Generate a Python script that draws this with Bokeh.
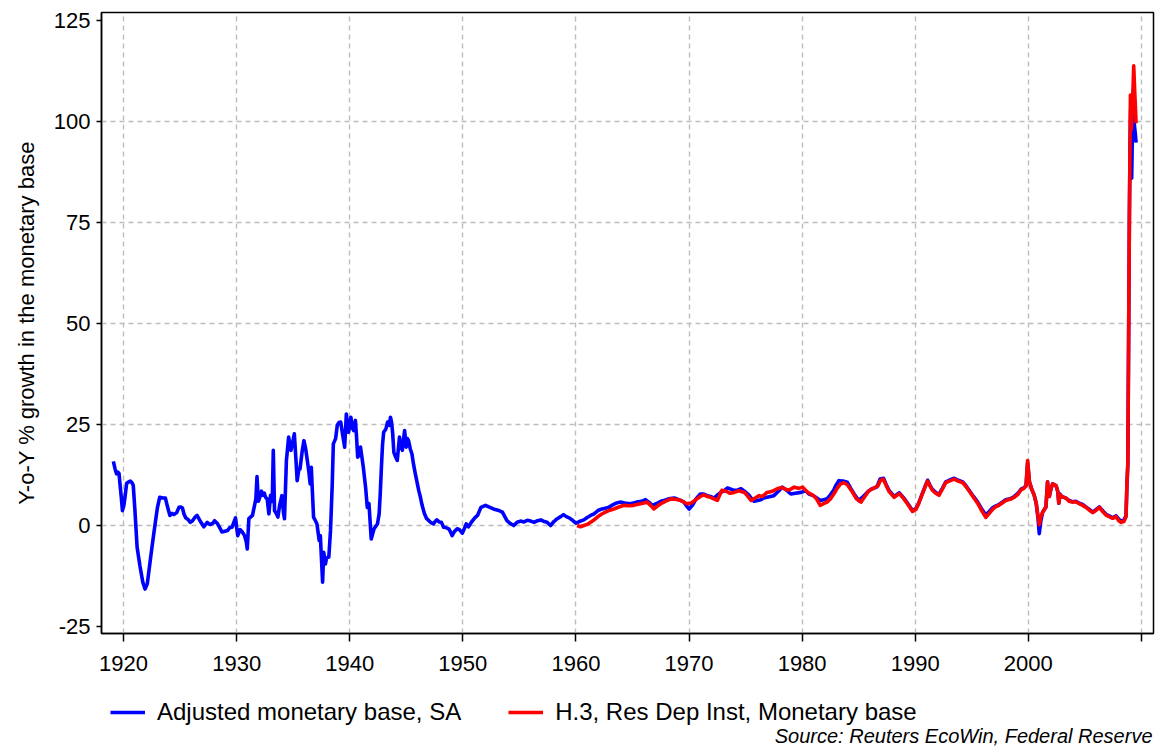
from bokeh.plotting import figure
from bokeh.models import Range1d, FixedTicker, Legend, LegendItem, Label
from bokeh.layouts import column
from bokeh.embed import file_html
from bokeh.resources import INLINE

# ---------------- data ----------------
blue_years = [
    1919.10, 1919.25, 1919.38, 1919.50, 1919.60, 1919.67, 1919.80, 1919.90, 1920.03, 1920.15,
    1920.27, 1920.45, 1920.60, 1920.75, 1920.86, 1921.00, 1921.20, 1921.45, 1921.70, 1921.90,
    1922.10, 1922.40, 1922.60, 1922.83, 1923.00, 1923.20, 1923.45, 1923.70, 1923.90, 1924.10,
    1924.30, 1924.45, 1924.70, 1924.90, 1925.05, 1925.20, 1925.35, 1925.50, 1925.70, 1925.90,
    1926.10, 1926.30, 1926.50, 1926.80, 1927.10, 1927.40, 1927.55, 1927.70, 1927.90, 1928.05,
    1928.30, 1928.50, 1928.70, 1928.95, 1929.20, 1929.40, 1929.60, 1929.75, 1929.90, 1930.00,
    1930.10, 1930.30, 1930.50, 1930.70, 1930.85, 1930.94, 1931.08, 1931.40, 1931.70, 1931.80,
    1931.92, 1932.05, 1932.20, 1932.30, 1932.45, 1932.55, 1932.70, 1932.85, 1933.00, 1933.15,
    1933.24, 1933.35, 1933.50, 1933.65, 1933.80, 1934.00, 1934.15, 1934.23, 1934.40, 1934.60,
    1934.70, 1934.80, 1934.95, 1935.10, 1935.25, 1935.35, 1935.50, 1935.60, 1935.80, 1935.95,
    1936.10, 1936.25, 1936.40, 1936.50, 1936.60, 1936.80, 1937.00, 1937.10, 1937.30, 1937.40,
    1937.60, 1937.70, 1937.85, 1937.95, 1938.15, 1938.30, 1938.45, 1938.55, 1938.75, 1938.90,
    1939.05, 1939.20, 1939.40, 1939.55, 1939.70, 1939.80, 1939.90, 1940.10, 1940.25, 1940.35,
    1940.50, 1940.60, 1940.70, 1940.85, 1940.95, 1941.20, 1941.40, 1941.55, 1941.70, 1941.90,
    1942.15, 1942.45, 1942.60, 1942.70, 1942.80, 1942.90, 1943.00, 1943.20, 1943.35, 1943.50,
    1943.60, 1943.70, 1943.80, 1943.90, 1944.05, 1944.20, 1944.40, 1944.50, 1944.65, 1944.85,
    1945.00, 1945.10, 1945.20, 1945.35, 1945.50, 1945.65, 1945.80, 1946.10, 1946.25, 1946.40,
    1946.60, 1946.80, 1947.00, 1947.15, 1947.40, 1947.55, 1947.70, 1947.90, 1948.10, 1948.30,
    1948.50, 1948.75, 1948.90, 1949.05, 1949.25, 1949.50, 1949.70, 1949.95, 1950.10, 1950.30,
    1950.50, 1950.80, 1951.10, 1951.30, 1951.60, 1952.00, 1952.30, 1952.70, 1953.10, 1953.50,
    1953.90, 1954.20, 1954.50, 1954.80, 1955.10, 1955.40, 1955.70, 1956.00, 1956.30, 1956.60,
    1956.90, 1957.20, 1957.45, 1957.75, 1958.05, 1958.35, 1958.65, 1958.90, 1959.15, 1959.40,
    1959.70, 1960.00, 1960.30, 1960.70, 1961.00, 1961.30, 1961.60, 1962.00, 1962.30, 1962.60,
    1962.90, 1963.30, 1963.60, 1963.95, 1964.30, 1964.80, 1965.10, 1965.40, 1965.80, 1966.15,
    1966.45, 1966.75, 1967.10, 1967.50, 1967.80, 1968.20, 1968.70, 1969.10, 1969.55, 1969.80,
    1970.00, 1970.30, 1970.60, 1971.00, 1971.30, 1971.60, 1971.90, 1972.20, 1972.50, 1972.80,
    1973.10, 1973.40, 1973.70, 1974.00, 1974.30, 1974.60, 1974.90, 1975.20, 1975.50, 1975.75,
    1976.05, 1976.35, 1976.60, 1976.90, 1977.20, 1977.50, 1977.90, 1978.25, 1978.60, 1979.00,
    1979.40, 1979.90, 1980.30, 1980.60, 1981.00, 1981.30, 1981.60, 1981.90, 1982.20, 1982.50,
    1982.80, 1983.00, 1983.25, 1983.60, 1984.00, 1984.30, 1984.60, 1985.00, 1985.35, 1985.75,
    1986.10, 1986.60, 1986.90, 1987.20, 1987.45, 1987.70, 1988.15, 1988.60, 1989.00, 1989.40,
    1989.76, 1990.06, 1990.30, 1990.60, 1990.85, 1991.10, 1991.30, 1991.50, 1991.80, 1992.10,
    1992.40, 1992.70, 1993.00, 1993.45, 1993.80, 1994.20, 1994.50, 1994.80, 1995.15, 1995.50,
    1995.90, 1996.25, 1996.55, 1996.84, 1997.10, 1997.40, 1997.70, 1998.00, 1998.40, 1998.76,
    1999.10, 1999.35, 1999.60, 1999.80, 1999.94, 2000.10, 2000.30, 2000.50, 2000.70, 2000.85,
    2000.97, 2001.10, 2001.27, 2001.56, 2001.70, 2001.80, 2001.86, 2002.00, 2002.15, 2002.45,
    2002.60, 2002.70, 2002.80, 2002.95, 2003.33, 2003.60, 2003.90, 2004.20, 2004.50, 2004.80,
    2005.10, 2005.40, 2005.70, 2006.00, 2006.28, 2006.60, 2006.87, 2007.15, 2007.46, 2007.76,
    2008.00, 2008.20, 2008.45, 2008.64, 2008.72, 2008.80, 2008.88, 2008.94, 2009.00, 2009.05,
    2009.14, 2009.22, 2009.30, 2009.38, 2009.46, 2009.53,
]
blue_values = [
    15.9, 14.0, 12.8, 13.2, 12.9, 10.7, 7.0, 3.7, 5.0, 7.5,
    10.4, 10.8, 11.0, 10.6, 9.9, 4.0, -5.4, -10.0, -14.0, -15.7,
    -14.4, -7.8, -3.5, 1.2, 4.5, 7.0, 6.8, 6.8, 4.5, 2.5,
    3.0, 2.7, 3.2, 4.5, 4.6, 4.4, 2.8, 1.9, 1.5, 0.8,
    1.2, 2.0, 2.5, 1.0, -0.3, 0.8, 0.4, 0.25, 0.6, 1.2,
    0.5, -0.5, -1.6, -1.4, -1.2, -0.5, -0.4, 0.8, 1.9, -0.5,
    -2.5, -1.0, -1.6, -2.5, -4.0, -5.8, 1.7, 2.5, 6.6, 12.1,
    6.0, 7.0, 8.5, 7.5, 8.0, 7.0, 6.6, 2.9, 7.5, 6.0,
    18.6, 3.7, 3.0, 2.1, 5.0, 7.4, 3.0, 1.7, 16.1, 21.9,
    20.0, 18.6, 20.5, 22.7, 16.0, 11.1, 14.0, 14.0, 18.5, 21.0,
    19.0, 16.1, 13.0, 10.3, 14.4, 2.1, 1.0, 0.4, -3.7, -2.5,
    -14.0, -6.6, -9.5, -8.0, -7.8, -1.2, 10.0, 20.2, 21.5, 24.8,
    25.5, 25.6, 22.0, 19.4, 27.6, 25.0, 23.1, 26.8, 24.0, 23.5,
    26.0, 22.0, 16.9, 17.5, 19.4, 14.4, 9.5, 4.5, 5.4, -3.3,
    -0.8, 0.4, 2.9, 8.0, 14.4, 20.0, 23.1, 23.9, 25.6, 24.8,
    26.8, 25.5, 22.7, 18.1, 17.0, 16.1, 21.9, 20.0, 18.6, 23.5,
    19.4, 21.5, 21.0, 19.0, 17.7, 15.0, 12.8, 8.7, 7.0, 5.0,
    3.0, 1.7, 1.2, 0.8, 0.4, 1.0, 1.4, 0.9, 0.8, -0.4,
    -0.5, -0.8, -1.5, -2.5, -1.5, -0.8, -1.0, -1.9, -1.0, 0.4,
    -0.3, 1.0, 2.0, 2.5, 4.5, 5.0, 4.6, 4.1, 3.8, 3.3,
    1.2, 0.5, 0.0, 0.8, 1.1, 0.9, 1.3, 1.1, 0.8, 1.2,
    1.4, 1.0, 0.8, 0.0, 1.0, 1.7, 2.2, 2.7, 2.2, 1.9,
    1.3, 0.6, 1.0, 1.4, 2.0, 2.5, 2.9, 3.8, 4.1, 4.3,
    4.5, 5.2, 5.6, 5.8, 5.6, 5.4, 5.6, 5.8, 6.0, 6.4,
    5.8, 5.0, 5.4, 6.0, 6.2, 6.6, 6.8, 6.4, 5.8, 4.8,
    4.1, 5.0, 6.5, 7.8, 7.8, 7.4, 7.2, 6.8, 7.5, 8.2,
    8.6, 9.3, 9.0, 8.7, 8.8, 9.1, 8.5, 7.8, 6.8, 6.0,
    6.2, 6.4, 6.8, 7.0, 7.2, 7.4, 8.5, 9.5, 8.8, 7.8,
    8.0, 8.2, 8.6, 7.8, 7.4, 6.8, 6.2, 6.4, 6.6, 7.6,
    8.8, 10.0, 11.1, 11.0, 10.7, 9.2, 7.8, 6.2, 7.0, 8.2,
    9.0, 9.5, 11.5, 11.7, 10.0, 8.6, 7.2, 8.1, 6.8, 5.2,
    3.7, 4.2, 5.5, 7.7, 9.5, 11.2, 10.0, 9.0, 8.2, 7.7,
    9.2, 10.8, 11.2, 11.7, 11.2, 10.8, 9.8, 8.6, 7.2, 5.9,
    4.0, 2.6, 3.5, 4.4, 4.8, 5.2, 5.8, 6.4, 6.6, 7.2,
    8.0, 9.0, 9.3, 9.9, 15.5, 10.8, 9.0, 7.7, 5.5, 2.0,
    -2.0, 1.0, 3.3, 4.6, 10.8, 8.0, 7.2, 9.0, 10.3, 9.9,
    8.5, 5.5, 7.8, 7.2, 6.8, 6.2, 5.9, 6.0, 5.5, 5.2,
    4.6, 4.0, 3.3, 4.0, 4.6, 3.6, 2.8, 2.4, 1.9, 2.4,
    1.6, 1.1, 1.4, 2.4, 10.0, 15.2, 50.5, 77.0, 95.0, 103.0,
    85.9, 100.0, 108.0, 99.0, 97.0, 94.7,
]

red_years = [
    1960.10, 1960.40, 1960.70, 1961.00, 1961.30, 1961.60, 1961.90, 1962.25, 1962.60, 1963.00,
    1963.35, 1963.80, 1964.25, 1964.70, 1965.10, 1965.40, 1965.70, 1966.00, 1966.30, 1966.60,
    1966.90, 1967.20, 1967.50, 1967.90, 1968.40, 1968.80, 1969.30, 1969.80, 1970.20, 1970.70,
    1971.00, 1971.30, 1971.60, 1971.90, 1972.20, 1972.50, 1972.90, 1973.30, 1973.60, 1974.00,
    1974.40, 1974.90, 1975.20, 1975.50, 1975.85, 1976.20, 1976.50, 1976.90, 1977.30, 1977.80,
    1978.20, 1978.70, 1979.00, 1979.30, 1979.70, 1980.05, 1980.50, 1981.00, 1981.30, 1981.60,
    1981.90, 1982.20, 1982.50, 1982.80, 1983.10, 1983.40, 1983.70, 1984.00, 1984.40, 1984.80,
    1985.20, 1985.50, 1985.90, 1986.30, 1986.70, 1986.90, 1987.17, 1987.45, 1987.70, 1988.14,
    1988.60, 1989.00, 1989.40, 1989.76, 1990.06, 1990.30, 1990.60, 1990.85, 1991.10, 1991.30,
    1991.50, 1991.80, 1992.10, 1992.40, 1992.70, 1993.00, 1993.45, 1993.80, 1994.20, 1994.50,
    1994.80, 1995.15, 1995.50, 1995.90, 1996.25, 1996.55, 1996.84, 1997.10, 1997.40, 1997.70,
    1998.00, 1998.40, 1998.76, 1999.10, 1999.35, 1999.60, 1999.80, 1999.94, 2000.10, 2000.30,
    2000.50, 2000.70, 2000.85, 2000.97, 2001.10, 2001.27, 2001.56, 2001.70, 2001.80, 2001.86,
    2002.00, 2002.15, 2002.45, 2002.60, 2002.70, 2002.80, 2002.95, 2003.33, 2003.60, 2003.90,
    2004.20, 2004.50, 2004.80, 2005.10, 2005.40, 2005.70, 2006.00, 2006.28, 2006.60, 2006.87,
    2007.15, 2007.46, 2007.76, 2008.00, 2008.20, 2008.45, 2008.64, 2008.72, 2008.80, 2008.88,
    2008.94, 2009.03, 2009.10, 2009.17, 2009.25, 2009.32, 2009.40, 2009.47, 2009.53,
]
red_values = [
    0.0, -0.3, 0.0, 0.3, 0.8, 1.4, 2.1, 2.8, 3.3, 3.8,
    4.1, 4.6, 5.0, 4.9, 5.0, 5.2, 5.4, 5.6, 5.8, 5.0,
    4.1, 4.8, 5.4, 6.0, 6.6, 6.5, 6.2, 5.4, 5.6, 6.6,
    7.2, 7.6, 7.2, 7.0, 6.6, 6.2, 8.7, 8.5, 8.0, 8.2,
    8.6, 8.2, 7.2, 6.2, 6.8, 7.4, 7.2, 8.2, 8.4, 9.1,
    9.4, 8.8, 9.0, 9.5, 9.2, 9.5, 8.2, 7.4, 6.5, 5.0,
    5.4, 5.8, 6.6, 7.8, 9.2, 10.3, 10.6, 10.1, 8.5, 6.6,
    5.8, 7.0, 8.6, 9.2, 9.8, 11.1, 11.5, 9.8, 8.4, 7.0,
    7.9, 6.6, 5.0, 3.5, 4.0, 5.4, 7.6, 9.4, 11.0, 9.8,
    8.8, 8.0, 7.5, 9.0, 10.6, 11.0, 11.5, 11.0, 10.6, 9.6,
    8.4, 7.0, 5.6, 3.6, 2.0, 3.0, 4.0, 4.6, 5.0, 5.6,
    6.2, 6.5, 7.0, 7.8, 8.8, 9.2, 9.8, 16.1, 10.8, 9.0,
    7.7, 5.5, 2.5, 0.2, 2.0, 3.3, 4.6, 10.8, 8.0, 7.2,
    9.2, 10.3, 9.9, 8.5, 5.5, 7.6, 7.2, 6.8, 6.0, 5.8,
    5.9, 5.4, 5.0, 4.5, 3.8, 3.2, 3.8, 4.5, 3.4, 2.6,
    2.2, 1.8, 2.2, 1.2, 0.8, 1.0, 2.2, 10.0, 15.2, 50.5,
    77.0, 106.5, 98.0, 101.0, 107.0, 113.7, 108.0, 103.5, 99.5,
]

x_ticks = [1920, 1930, 1940, 1950, 1960, 1970, 1980, 1990, 2000, 2010]
y_ticks = [-25, 0, 25, 50, 75, 100, 125]
y_grid_ticks = [0, 25, 50, 75, 100]

blue_label = "Adjusted monetary base, SA"
red_label = "H.3, Res Dep Inst, Monetary base"
y_title = "Y-o-Y % growth in the monetary base"
source_text = "Source: Reuters EcoWin, Federal Reserve"

FONT = "'Liberation Sans', Arial, sans-serif"
BLUE = "#0000ff"
RED = "#ff0000"
LW = 3.6
NAN = float("nan")

# ---------------- main chart ----------------
p = figure(width=1157, height=680,
           x_range=Range1d(1918.05, 2011.07), y_range=Range1d(-26.7, 126.9),
           output_backend="svg", toolbar_location=None,
           min_border_left=101, min_border_right=4, min_border_top=12, min_border_bottom=47)
p.background_fill_color = "white"
p.border_fill_color = "white"
p.outline_line_color = "black"
p.outline_line_width = 1.5

p.xaxis.ticker = FixedTicker(ticks=x_ticks)
p.yaxis.ticker = FixedTicker(ticks=y_ticks)
p.xaxis.major_label_overrides = {2010: ""}
p.yaxis.major_label_overrides = {-25: "-25"}
for ax in (p.xaxis[0], p.yaxis[0]):
    ax.axis_line_color = "black"
    ax.axis_line_width = 1.5
    ax.major_tick_line_color = "black"
    ax.major_tick_line_width = 1.5
    ax.major_tick_in = 0
    ax.minor_tick_line_color = None
    ax.major_label_text_font = FONT
    ax.major_label_text_font_size = "22px"
    ax.major_label_text_color = "black"
p.xaxis.major_tick_out = 8
p.xaxis.major_label_standoff = 14
p.yaxis.major_tick_out = 5
p.yaxis.major_label_standoff = 6
p.yaxis.axis_label = y_title
p.yaxis.axis_label_text_font = FONT
p.yaxis.axis_label_text_font_style = "normal"
p.yaxis.axis_label_text_font_size = "22px"
p.yaxis.axis_label_text_color = "black"
p.yaxis.axis_label_standoff = 12

p.xgrid.ticker = FixedTicker(ticks=x_ticks)
p.ygrid.ticker = FixedTicker(ticks=y_grid_ticks)
for g in (p.xgrid[0], p.ygrid[0]):
    g.grid_line_color = "#bdbdbd"
    g.grid_line_dash = "5 4"
    g.grid_line_width = 1.4

p.line(blue_years, blue_values, line_color=BLUE, line_width=LW, line_join="round")
p.line(red_years, red_values, line_color=RED, line_width=LW, line_join="round")

# ---------------- legend / source strip ----------------
f = figure(width=1157, height=66, x_range=Range1d(0, 1), y_range=Range1d(0, 1),
           output_backend="svg", toolbar_location=None,
           x_axis_location=None, y_axis_location=None,
           min_border=0, min_border_left=0, min_border_right=0,
           min_border_top=0, min_border_bottom=0)
f.outline_line_color = None
f.grid.visible = False
f.background_fill_color = "white"
f.border_fill_color = "white"
# legend keys only (NaN data: nothing drawn in the strip itself)
k_blue = f.line(x=[NAN], y=[NAN], line_color=BLUE, line_width=LW)
k_red = f.line(x=[NAN], y=[NAN], line_color=RED, line_width=LW)

legend = Legend(items=[LegendItem(label=blue_label, renderers=[k_blue]),
                       LegendItem(label=red_label, renderers=[k_red])],
                orientation="horizontal", location=(9, 20),
                padding=0, margin=0, spacing=47,
                glyph_width=35, glyph_height=26, label_height=26, label_standoff=12,
                label_text_font=FONT, label_text_font_size="24px", label_text_color="black",
                border_line_color=None, background_fill_alpha=0)
f.add_layout(legend, "center")

src = Label(x=1051, y=11, x_units="screen", y_units="screen", text=source_text,
            text_align="right", text_baseline="middle",
            text_font=FONT, text_font_style="italic", text_font_size="20px",
            text_color="black")
f.add_layout(src)

layout = column(p, f, spacing=0)
open("out.html", "w").write(file_html(layout, INLINE))
